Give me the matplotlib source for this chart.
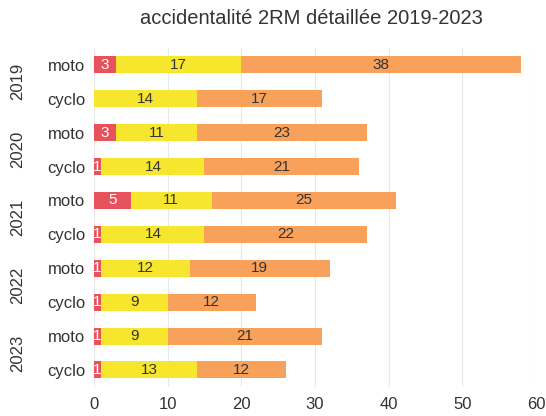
import matplotlib
matplotlib.use("Agg")
import matplotlib.pyplot as plt
import numpy as np

plt.rcParams['font.family'] = ['Liberation Sans', 'DejaVu Sans']

years = ["2019", "2020", "2021", "2022", "2023"]
types = ["moto", "cyclo"]
# one value per row: 2019 moto, 2019 cyclo, 2020 moto, ...
killed = [3, 0, 3, 1, 5, 1, 1, 1, 1, 1]
serious = [17, 14, 11, 14, 11, 14, 12, 9, 9, 13]
light = [38, 17, 23, 21, 25, 22, 19, 12, 21, 12]

colors = ["#e8525c", "#f7e62e", "#f7a15a"]
text_colors = ["white", "#333333", "#333333"]

fig = plt.figure(figsize=(5.46, 4.16), dpi=100)
ax = fig.add_axes([0.172, 0.07, 0.81, 0.815])

rows = np.arange(len(killed))
left = np.zeros(len(killed))
for vals, col, tcol in zip([killed, serious, light], colors, text_colors):
    vals = np.array(vals, dtype=float)
    ax.barh(rows, vals, left=left, height=0.5, color=col, zorder=2)
    for r, v, l in zip(rows, vals, left):
        if v > 0:
            ax.text(l + v / 2, r, f"{int(v)}", ha="center", va="center",
                    fontsize=11, color=tcol, zorder=3)
    left += vals

ax.set_xlim(0, 60)
ax.set_ylim(len(killed) - 0.5, -0.5)
ax.set_xticks(range(0, 61, 10))
ax.set_yticks(rows)
ax.set_yticklabels(types * len(years))
ax.tick_params(axis="both", length=0, labelsize=12, colors="#333333")
ax.tick_params(axis="y", pad=6)
ax.tick_params(axis="x", pad=7)
ax.grid(axis="x", color="#e8e8e8", linewidth=0.8, zorder=0)
for s in ax.spines.values():
    s.set_visible(False)

for i, y in enumerate(years):
    fig.text(0.033, ax.transData.transform((0, 2 * i + 0.5))[1] / fig.bbox.height,
             y, rotation=90, ha="center", va="center", fontsize=12, color="#333333")

fig.text(0.57, 0.955, "accidentalité 2RM détaillée 2019-2023", ha="center",
         va="center", fontsize=14.5, color="#333333")

fig.savefig("out.png", dpi=100)
